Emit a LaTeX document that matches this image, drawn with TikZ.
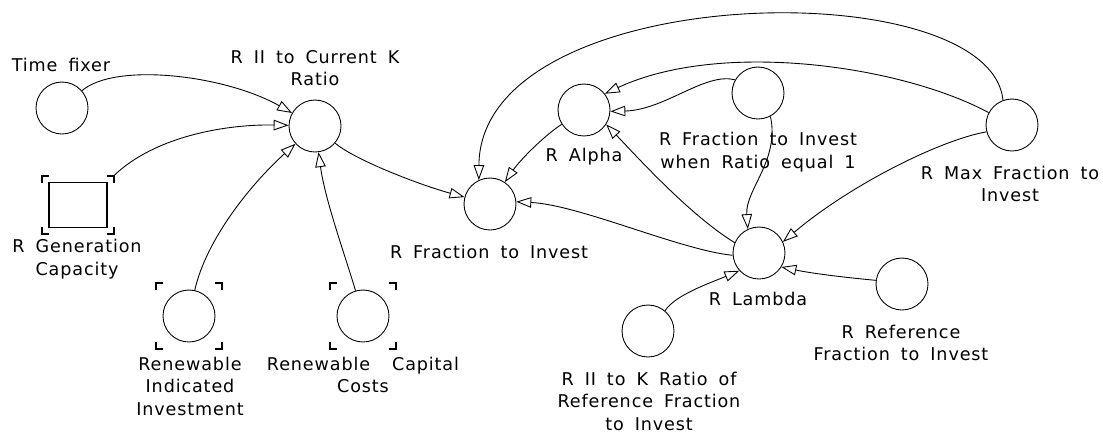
\documentclass[tikz,border=0pt]{standalone}
\usepackage{fontspec}
\setmainfont{DejaVu Sans}[LetterSpace=5,WordSpace=1.7]
\usetikzlibrary{arrows.meta}

% corner marks round a node: name, half width, half height
\newcommand{\cornermarks}[3]{%
    \draw [line width=0.6pt] ([shift={(-#2,-#3+7)}]#1.center) -- ++(0,-7) -- ++(7,0);
    \draw [line width=0.6pt] ([shift={(#2-7,-#3)}]#1.center) -- ++(7,0) -- ++(0,7);
    \draw [line width=0.6pt] ([shift={(-#2,#3-7)}]#1.center) -- ++(0,7) -- ++(7,0);
    \draw [line width=0.6pt] ([shift={(#2-7,#3)}]#1.center) -- ++(7,0) -- ++(0,-7);
}

\begin{document}
\begin{tikzpicture}[x=0.02cm, y=-0.02cm, line width=0.5pt]
    % Styles
    \tikzstyle{aux} = [circle, draw, minimum size=1.04cm, inner sep=0pt]
    \tikzstyle{level} = [rectangle, draw, line width=0.8pt, minimum width=1.16cm, minimum height=0.9cm, inner sep=0pt]
    \tikzstyle{lbl} = [align=center, inner sep=0pt, font=\fontsize{10}{12.8}\selectfont]
    \tikzstyle{link} = [-{Triangle[open,length=8.5pt,width=6pt]}]

    \useasboundingbox (0,0) rectangle (1103,434);

    % Nodes
    \node [aux] (tf) at (62,108) {};
    \node [aux] (riicur) at (315,126) {};
    \node [level] (gencap) at (78,205) {};
    \node [aux] (reninv) at (189,316) {};
    \node [aux] (rencap) at (363,316) {};
    \node [aux] (rfrac) at (490,204) {};
    \node [aux] (ralpha) at (584,110) {};
    \node [aux] (rfrac1) at (758,93) {};
    \node [aux] (rmax) at (1012,125) {};
    \node [aux] (rlambda) at (759,253) {};
    \node [aux] (rref) at (902,284) {};
    \node [aux] (riiref) at (648,331) {};

    \cornermarks{gencap}{36}{29}
    \cornermarks{reninv}{33}{33}
    \cornermarks{rencap}{33}{33}

    % Labels
    \node [lbl] (tf-lbl) at (61,65) {Time fixer};
    \node [lbl] (riicur-lbl) at (315,68) {R II to Current K\\Ratio};
    \node [lbl] (gencap-lbl) at (77,259) {R Generation\\Capacity};
    \node [lbl] (reninv-lbl) at (190,386) {Renewable\\Indicated\\Investment};
    \node [lbl] (rencap-lbl) at (363,375) {Renewable\ \ Capital\\Costs};
    \node [lbl] (rfrac-lbl) at (489,252) {R Fraction to Invest};
    \node [lbl] (ralpha-lbl) at (584,157) {R Alpha};
    \node [lbl] (rfrac1-lbl) at (758,152) {R Fraction to Invest\\when Ratio equal 1};
    \node [lbl] (rmax-lbl) at (1010,184) {R Max Fraction to\\Invest};
    \node [lbl] (rlambda-lbl) at (758,299) {R Lambda};
    \node [lbl] (rref-lbl) at (901,343) {R Reference\\Fraction to Invest};
    \node [lbl] (riiref-lbl) at (649,401) {R II to K Ratio of\\Reference Fraction\\to Invest};

    % Arrows
    \draw [link] (tf) .. controls (115,62) and (225,75) .. (riicur);
    \draw [link] ([shift={(5,-5)}]gencap.north east) .. controls (155,135) and (230,124) .. (riicur);
    \draw [link] (reninv) .. controls (206,240) and (250,185) .. (riicur);
    \draw [link] (rencap) .. controls (345,255) and (325,200) .. (riicur);
    \draw [link] (riicur) .. controls (355,160) and (420,185) .. (rfrac);
    \draw [link] (ralpha) .. controls (545,135) and (520,160) .. (rfrac);
    \draw [link] (rmax.110) .. controls (990,-30) and (480,-20) .. (rfrac.115);
    \draw [link] (rmax.152) .. controls (900,65) and (720,40) .. (ralpha.38);
    \draw [link] (rfrac1.150) .. controls (705,72) and (665,110) .. (ralpha.-3);
    \draw [link] (rfrac1.-62) .. controls (780,160) and (745,190) .. (rlambda.115);
    \draw [link] (rmax.195) .. controls (940,140) and (850,185) .. (rlambda.25);
    \draw [link] (rlambda.157) .. controls (690,215) and (640,160) .. (ralpha.-33);
    \draw [link] (rlambda.185) .. controls (680,250) and (580,205) .. (rfrac.5);
    \draw [link] (rref.172) .. controls (840,277) and (810,273) .. (rlambda.-32);
    \draw [link] (riiref.50) .. controls (675,295) and (710,283) .. (rlambda.222);
\end{tikzpicture}
\end{document}
